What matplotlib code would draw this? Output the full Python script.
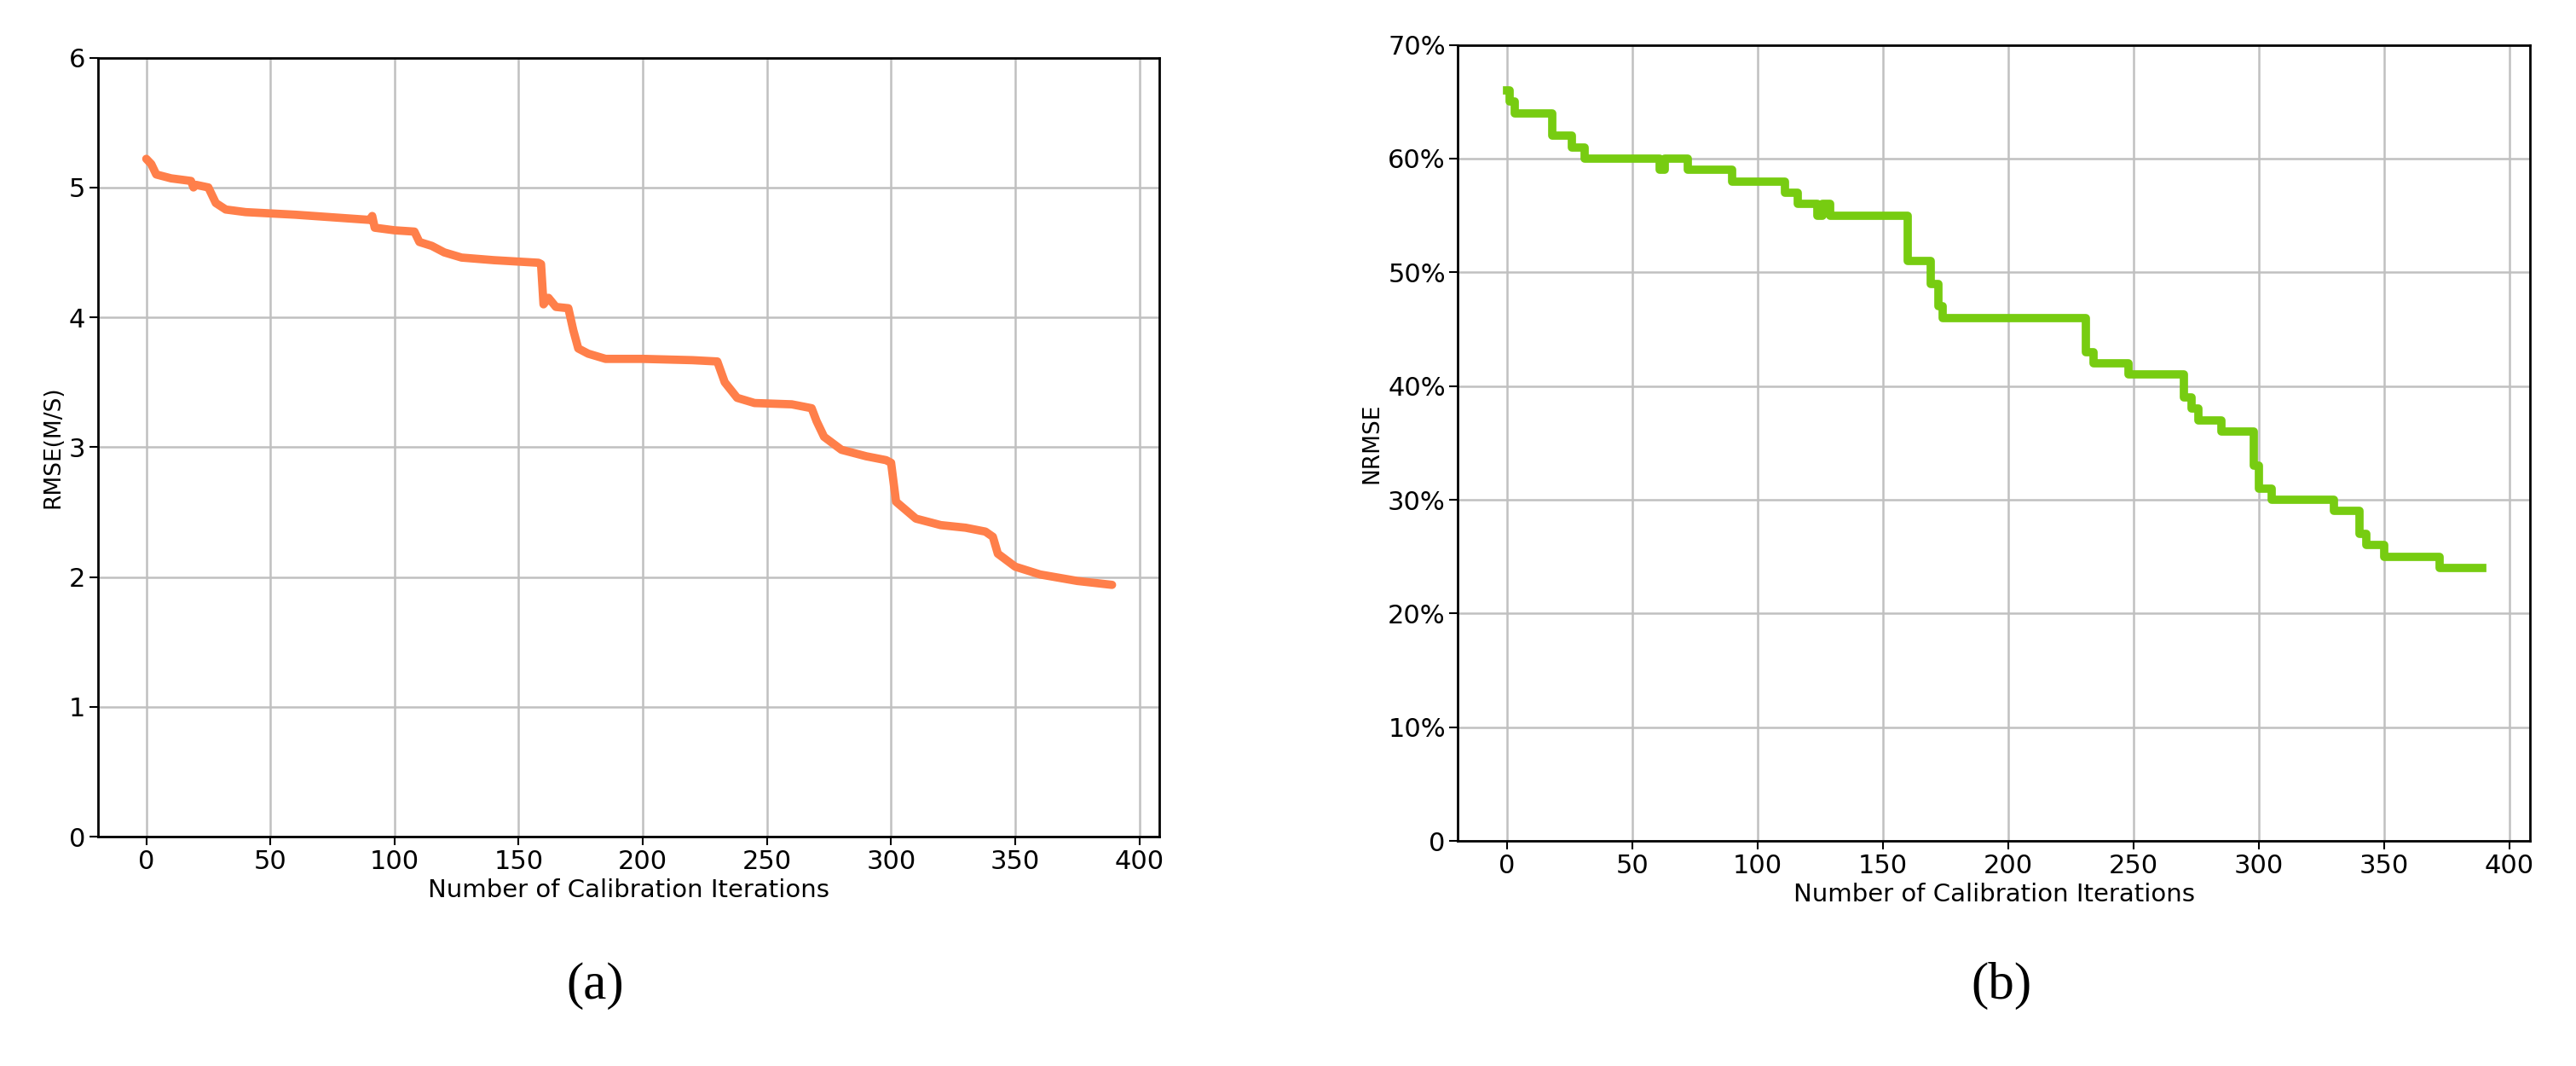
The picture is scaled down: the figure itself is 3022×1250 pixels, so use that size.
import matplotlib

matplotlib.use("Agg")
import matplotlib.pyplot as plt
from matplotlib.ticker import FuncFormatter

# RMSE curve (panel a)
rmse_x = [0, 2, 4, 10, 18, 19, 20, 25, 28, 32, 40, 60, 75, 90, 91, 92, 100, 108, 110, 115,
          120, 127, 140, 158, 159, 160, 162, 165, 170, 172, 174, 178, 185, 200, 220, 230, 233,
          238, 245, 260, 268, 270, 273, 280, 290, 298, 300, 302, 310, 320, 330, 338, 341, 343,
          350, 360, 375, 389]
rmse_y = [5.22, 5.18, 5.10, 5.07, 5.05, 5.00, 5.02, 5.00, 4.88, 4.83, 4.81, 4.79, 4.77, 4.75,
          4.78, 4.69, 4.67, 4.66, 4.58, 4.55, 4.50, 4.46, 4.44, 4.42, 4.41, 4.10, 4.15, 4.08,
          4.07, 3.90, 3.76, 3.72, 3.68, 3.68, 3.67, 3.66, 3.50, 3.38, 3.34, 3.33, 3.30, 3.20,
          3.08, 2.98, 2.93, 2.90, 2.88, 2.58, 2.45, 2.40, 2.38, 2.35, 2.31, 2.18, 2.08, 2.02,
          1.97, 1.94]

# NRMSE step curve (panel b), percent
nrmse_x = [0, 1, 3, 18, 26, 31, 61, 63, 72, 90, 111, 116, 124, 126, 129, 159, 160, 169, 172,
           174, 229, 231, 234, 248, 270, 273, 276, 285, 298, 300, 305, 330, 340, 343, 350, 372, 389]
nrmse_y = [66, 65, 64, 62, 61, 60, 59, 60, 59, 58, 57, 56, 55, 56, 55, 55, 51, 49, 47,
           46, 46, 43, 42, 41, 39, 38, 37, 36, 33, 31, 30, 29, 27, 26, 25, 24, 24]

xticks = [0, 50, 100, 150, 200, 250, 300, 350, 400]

plt.rcParams["font.family"] = ["DejaVu Sans"]
fig = plt.figure(figsize=(30.22, 12.5), dpi=100)

ax1 = fig.add_axes([0.038, 0.215, 0.412, 0.731])
ax1.plot(rmse_x, rmse_y, color="#ff7f4a", linewidth=7, solid_capstyle="round")
ax1.set_ylim(0, 6)
ax1.set_xlim(-19.5, 408)
ax1.set_ylabel("RMSE(M/S)", fontsize=19)

ax2 = fig.add_axes([0.566, 0.211, 0.416, 0.747])
ax2.plot(nrmse_x, nrmse_y, color="#77cc11", linewidth=7, drawstyle="steps-post")
ax2.set_ylim(0, 70)
ax2.set_xlim(-19.5, 408)
ax2.set_yticks(range(0, 80, 10))
ax2.yaxis.set_major_formatter(FuncFormatter(lambda v, p: "0" if v == 0 else f"{v:.0f}%"))
ax2.set_ylabel("NRMSE", fontsize=19)

for ax in (ax1, ax2):
    ax.set_xticks(xticks)
    ax.grid(color="#c0c0c0", linewidth=1.8)
    ax.set_axisbelow(True)
    ax.tick_params(labelsize=22, length=7, width=1.5)
    ax.set_xlabel("Number of Calibration Iterations", fontsize=21)
    for s in ax.spines.values():
        s.set_linewidth(2)

fig.text(0.231, 0.075, "(a)", fontsize=44, family="Liberation Serif", ha="center", va="center")
fig.text(0.777, 0.075, "(b)", fontsize=44, family="Liberation Serif", ha="center", va="center")

fig.savefig("out.png", dpi=100)
